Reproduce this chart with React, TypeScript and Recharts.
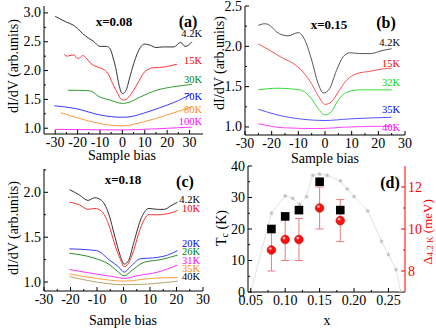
import React from 'react';
import { LineChart, Line, XAxis, YAxis, ComposedChart, Scatter, ErrorBar, Symbols } from 'recharts';

type Pt = [number, number];

// (a) x=0.08 : [sample bias, dI/dV]
const a42K: Pt[] = [[-30, 2.94], [-27, 2.88], [-25, 2.84], [-22, 2.79], [-20, 2.73], [-17.7, 2.64], [-15, 2.56], [-13, 2.51], [-10, 2.42], [-7, 2.42], [-5.5, 2.38], [-4, 2.2], [-3, 2.05], [-1.5, 1.75], [0, 1.6], [1, 1.62], [2, 1.69], [3, 1.84], [4, 1.98], [6.4, 2.27], [8, 2.4], [10, 2.46], [12.4, 2.44], [15, 2.4], [18, 2.41], [23, 2.41], [26, 2.49], [28, 2.42], [29.5, 2.44], [31, 2.5]];
const a15K: Pt[] = [[-26, 2.28], [-24.5, 2.25], [-23.5, 2.26], [-21.5, 2.27], [-20.5, 2.22], [-19.5, 2.21], [-17.7, 2.26], [-16.2, 2.22], [-14, 2.12], [-11, 2.06], [-8, 2.01], [-6, 1.92], [-5, 1.83], [-2.3, 1.62], [0, 1.49], [1, 1.49], [3.4, 1.57], [6.4, 1.75], [10, 1.98], [14, 2.05], [18.4, 2.06], [21, 2.08], [24.4, 2.11]];
const a30K: Pt[] = [[-24.4, 1.66], [-14.7, 1.65], [-10, 1.54], [-5.6, 1.49], [0, 1.43], [3, 1.45], [7.9, 1.54], [15.4, 1.66], [22.9, 1.72], [31, 1.76]];
const a70K: Pt[] = [[-30.4, 1.39], [-20.7, 1.34], [-10, 1.23], [0, 1.19], [5, 1.21], [9.4, 1.26], [19.9, 1.4], [25, 1.48], [31, 1.6]];
const a80K: Pt[] = [[-27.4, 1.27], [-19.2, 1.17], [-10, 1.08], [0, 1.04], [9.4, 1.11], [19.9, 1.23], [31, 1.37]];
const a100K: Pt[] = [[-30, 0.98], [-15, 0.975], [0, 0.97], [15, 0.99], [31, 1.02]];

// (b) x=0.15
const b42K: Pt[] = [[-25, 2.26], [-22.6, 2.28], [-20.7, 2.26], [-18.2, 2.18], [-13.9, 2.13], [-10, 2.17], [-7.6, 2.08], [-5, 1.83], [-2.6, 1.54], [-0.5, 1.42], [1.8, 1.48], [4.3, 1.7], [6.8, 1.87], [9.3, 1.92], [13, 1.91], [17, 1.91], [21.8, 1.95], [25, 1.97]];
const b15K: Pt[] = [[-25, 2.03], [-20.7, 1.95], [-15.7, 1.85], [-12, 1.79], [-8.2, 1.68], [-5.1, 1.54], [-2.6, 1.39], [0, 1.28], [2.4, 1.31], [4.9, 1.43], [8.1, 1.58], [11.8, 1.66], [16.8, 1.69], [21.8, 1.72], [25, 1.73]];
const b32K: Pt[] = [[-25, 1.46], [-18, 1.48], [-9.5, 1.46], [-5.1, 1.35], [-2.6, 1.23], [0, 1.15], [2.4, 1.19], [4.9, 1.33], [8.1, 1.43], [13, 1.46], [19.4, 1.46], [25, 1.46]];
const b35K: Pt[] = [[-25, 1.22], [-18, 1.15], [-9.5, 1.1], [0, 1.08], [9.3, 1.1], [25, 1.12]];
const b40K: Pt[] = [[-25, 1.04], [-15.7, 0.99], [-3, 0.98], [9.3, 1.0], [25, 1.01]];

// (c) x=0.18
const c42K: Pt[] = [[-20.4, 2.03], [-16.6, 1.97], [-13.4, 1.91], [-10.8, 1.94], [-8.3, 1.91], [-5.7, 1.77], [-3.2, 1.5], [-1.3, 1.3], [0.3, 1.2], [1.9, 1.24], [3.8, 1.43], [6.4, 1.69], [9.6, 1.82], [12.8, 1.81], [15.3, 1.81], [17.9, 1.85], [20.4, 1.89]];
const c10K: Pt[] = [[-20.4, 1.89], [-16.6, 1.86], [-13.4, 1.81], [-10.8, 1.82], [-8.3, 1.79], [-5.7, 1.65], [-3.2, 1.41], [-1.3, 1.26], [0.3, 1.17], [1.9, 1.21], [3.8, 1.35], [6.4, 1.6], [9.6, 1.75], [12.8, 1.75], [17.9, 1.77], [20.4, 1.8]];
const c20K: Pt[] = [[-20.4, 1.37], [-10.2, 1.35], [-5.1, 1.24], [-1.9, 1.17], [0.3, 1.11], [2.6, 1.17], [6.4, 1.26], [11.5, 1.27], [16.6, 1.3], [20.4, 1.35]];
const c26K: Pt[] = [[-20.4, 1.32], [-11.5, 1.27], [-5.1, 1.19], [-1.9, 1.11], [0.3, 1.07], [3.2, 1.13], [7.7, 1.22], [14.1, 1.25], [20.4, 1.3]];
const c31K: Pt[] = [[-20.4, 1.14], [-12.8, 1.1], [-3.8, 1.06], [0.3, 1.04], [5.1, 1.07], [12.8, 1.11], [20.4, 1.19]];
const c35K: Pt[] = [[-20.4, 1.09], [-10.2, 1.04], [0.3, 1.01], [10.2, 1.04], [20.4, 1.05]];
const c40K: Pt[] = [[-20.4, 1.06], [-10.2, 1.0], [0, 0.97], [10.2, 0.98], [20.4, 1.01]];

// (d) Tc dome, measured Tc and gap
const domeX = [0.05, 0.08, 0.10, 0.111, 0.121, 0.131, 0.14, 0.15, 0.161, 0.18, 0.19, 0.20, 0.22, 0.24, 0.25, 0.261, 0.268];
const domeTc = [0, 25, 30.5, 29.7, 27.8, 30.3, 37, 37.4, 37, 35.3, 32.7, 30.3, 25.7, 16.1, 11.9, 7.1, 0];
const sampleX = [0.08, 0.10, 0.12, 0.15, 0.18];
const sampleTc = [20, 24, 26, 35, 26];
const gap42K = [9.0, 9.5, 9.5, 11.0, 10.4];
const gapErr = [1.0, 1.0, 1.0, 1.0, 1.0];

// ticks
const biasTicksA = [-30, -25, -20, -15, -10, -5, 0, 5, 10, 15, 20, 25, 30];
const biasTicks = [-30, -25, -20, -15, -10, -5, 0, 5, 10, 15, 20, 25, 30];
const didvTicksA = [1.0, 1.25, 1.5, 1.75, 2.0, 2.25, 2.5, 2.75, 3.0];
const didvTicksB = [1.0, 1.25, 1.5, 1.75, 2.0, 2.25, 2.5];
const didvTicksC = [1.0, 1.25, 1.5, 1.75, 2.0, 2.25];
const xTicksD = [0.05, 0.075, 0.1, 0.125, 0.15, 0.175, 0.2, 0.225, 0.25];
const tcTicks = [0, 5, 10, 15, 20, 25, 30, 35, 40];
const gapTicks = [8, 9, 10, 11, 12];

const SERIF = '"Liberation Serif", "Times New Roman", Times, serif';
const TM = 3;

const rows = (pts: Pt[]) => pts.map(([b, v]) => ({ b, v }));
const isMult = (v: number, step: number) => Math.abs(v / step - Math.round(v / step)) < 1e-6;

function makeTick(side: 'bottom' | 'left' | 'right', step: number, digits: number, color = '#000') {
  return (p: any) => {
    const v = p.payload.value as number;
    const major = isMult(v, step);
    const len = major ? 4 : 2;
    const label = major ? (
      side === 'bottom' ? (
        <text x={p.x} y={p.y + 10} textAnchor="middle" fontSize={14} fontFamily={SERIF} fill={color}>{v.toFixed(digits)}</text>
      ) : side === 'left' ? (
        <text x={p.x} y={p.y + 4.5} textAnchor="end" fontSize={14} fontFamily={SERIF} fill={color}>{v.toFixed(digits)}</text>
      ) : (
        <text x={p.x} y={p.y + 4.5} textAnchor="start" fontSize={14} fontFamily={SERIF} fill={color}>{v.toFixed(digits)}</text>
      )
    ) : null;
    let line;
    if (side === 'bottom') {
      const ay = p.y - TM;
      line = <line x1={p.x} x2={p.x} y1={ay} y2={ay - len} stroke={color} />;
    } else if (side === 'left') {
      const ax = p.x + TM;
      line = <line x1={ax} x2={ax + len} y1={p.y} y2={p.y} stroke={color} />;
    } else {
      const ax = p.x - TM;
      line = <line x1={ax} x2={ax - len} y1={p.y} y2={p.y} stroke={color} />;
    }
    return <g>{line}{label}</g>;
  };
}

type Curve = { pts: Pt[]; color: string };

const curvesA: Curve[] = [
  { pts: a42K, color: '#333333' },
  { pts: a15K, color: '#ff3333' },
  { pts: a30K, color: '#2e9e2e' },
  { pts: a70K, color: '#3b3bff' },
  { pts: a80K, color: '#ff9a40' },
  { pts: a100K, color: '#ff33ff' },
];
const curvesB: Curve[] = [
  { pts: b42K, color: '#555555' },
  { pts: b15K, color: '#ff5050' },
  { pts: b32K, color: '#33dd33' },
  { pts: b35K, color: '#5555ff' },
  { pts: b40K, color: '#ff44ff' },
];
const curvesC: Curve[] = [
  { pts: c42K, color: '#333333' },
  { pts: c10K, color: '#ff3333' },
  { pts: c20K, color: '#3b3bff' },
  { pts: c26K, color: '#2e8b2e' },
  { pts: c31K, color: '#ff33ff' },
  { pts: c35K, color: '#ffa040' },
  { pts: c40K, color: '#b5a56a' },
];

function BiasPanel(props: {
  curves: Curve[]; width: number; height: number; margin: any; yWidth: number; xHeight: number;
  xDomain: [number, number]; yDomain: [number, number]; xTicks: number[]; yTicks: number[];
}) {
  const { curves, width, height, margin, yWidth, xHeight, xDomain, yDomain, xTicks, yTicks } = props;
  return (
    <LineChart width={width} height={height} margin={margin}>
      <XAxis dataKey="b" type="number" domain={xDomain} allowDataOverflow ticks={xTicks} interval={0}
        height={xHeight} tickSize={0} tickMargin={TM} tickLine={false} axisLine={{ stroke: '#000' }}
        tick={makeTick('bottom', 10, 0)} />
      <XAxis xAxisId="top" orientation="top" dataKey="b" type="number" domain={xDomain} allowDataOverflow
        height={0} tick={false} tickLine={false} axisLine={{ stroke: '#000' }} />
      <YAxis type="number" domain={yDomain} allowDataOverflow ticks={yTicks} interval={0} width={yWidth}
        tickSize={0} tickMargin={TM} tickLine={false} axisLine={{ stroke: '#000' }}
        tick={makeTick('left', 0.5, 1)} />
      <YAxis yAxisId="right" orientation="right" type="number" domain={yDomain} allowDataOverflow
        width={0} tick={false} tickLine={false} axisLine={{ stroke: '#000' }} />
      {curves.map((c, i) => (
        <Line key={i} data={rows(c.pts)} dataKey="v" type="monotone" dot={false} stroke={c.color}
          strokeWidth={1} isAnimationActive={false} />
      ))}
    </LineChart>
  );
}

const domeRows = domeX.map((x, i) => ({ x, tc: domeTc[i] }));
const tcRows = sampleX.map((x, i) => ({ x, tc: sampleTc[i] }));
const gapRows = sampleX.map((x, i) => ({ x, gap: gap42K[i], err: gapErr[i] }));

const StarDot = (p: any) => (
  <Symbols key={p.key} cx={p.cx} cy={p.cy} type="star" size={9} fill="#bdbdbd" stroke="none" />
);
const SquareShape = (p: any) => (
  <rect x={p.cx - 4.3} y={p.cy - 4.3} width={8.6} height={8.6} fill="#000" />
);
const BallShape = (p: any) => (
  <g>
    <circle cx={p.cx} cy={p.cy} r={4.3} fill="#ff1010" stroke="#c00000" strokeWidth={0.6} />
    <circle cx={p.cx - 1.2} cy={p.cy - 1.4} r={1.4} fill="#ffb0b0" />
  </g>
);

function PanelD() {
  const xd: [number, number] = [0.046, 0.274];
  return (
    <ComposedChart width={236} height={169} margin={{ top: 6, right: 0, left: 0, bottom: 0 }}>
      <XAxis dataKey="x" type="number" domain={xd} allowDataOverflow ticks={xTicksD} interval={0}
        height={37} tickSize={0} tickMargin={TM} tickLine={false} axisLine={{ stroke: '#000' }}
        tick={makeTick('bottom', 0.05, 2)} />
      <XAxis xAxisId="top" orientation="top" dataKey="x" type="number" domain={xd} allowDataOverflow
        height={0} tick={false} tickLine={false} axisLine={{ stroke: '#000' }} />
      <YAxis type="number" domain={[0, 40]} allowDataOverflow ticks={tcTicks} interval={0} width={48}
        tickSize={0} tickMargin={TM} tickLine={false} axisLine={{ stroke: '#000' }}
        tick={makeTick('left', 10, 0)} />
      <YAxis yAxisId="r" orientation="right" type="number" domain={[7, 13]} allowDataOverflow ticks={gapTicks}
        interval={0} width={31} tickSize={0} tickMargin={TM} tickLine={false} axisLine={{ stroke: '#ff0000' }}
        tick={makeTick('right', 2, 0, '#ff0000')} />
      <Line data={domeRows} dataKey="tc" type="linear" stroke="#e2e2e2" strokeWidth={1} dot={StarDot}
        isAnimationActive={false} />
      <Scatter data={tcRows} dataKey="tc" shape={SquareShape} isAnimationActive={false} />
      <Scatter data={gapRows} dataKey="gap" yAxisId="r" shape={BallShape} isAnimationActive={false}>
        <ErrorBar dataKey="err" direction="y" width={4} stroke="#f07878" strokeWidth={1} isAnimationActive={false} />
      </Scatter>
    </ComposedChart>
  );
}

const T = (p: { x: number; y: number; c?: string; s?: number; b?: boolean; a?: 'start' | 'middle' | 'end'; children: React.ReactNode }) => (
  <text x={p.x} y={p.y} fill={p.c || '#000'} fontSize={p.s || 10.5} fontWeight={p.b ? 'bold' : 'normal'}
    textAnchor={p.a || 'end'} dominantBaseline="central" fontFamily={SERIF}>{p.children}</text>
);

const VT = (p: { x: number; y: number; c?: string; children: React.ReactNode }) => (
  <text transform={`translate(${p.x},${p.y}) rotate(-90)`} fill={p.c || '#000'} fontSize={14}
    textAnchor="middle" dominantBaseline="central" fontFamily={SERIF}>{p.children}</text>
);

export default function App() {
  return (
    <div style={{ position: 'absolute', left: 0, top: 0, width: 436, height: 329, background: '#fff', overflow: 'hidden' }}>
      <div style={{ position: 'absolute', left: 0, top: 0 }}>
        <BiasPanel curves={curvesA} width={222} height={165} margin={{ top: 6, right: 19, left: 0, bottom: 0 }}
          yWidth={44} xHeight={31} xDomain={[-35, 36]} yDomain={[0.9, 3.12]} xTicks={biasTicksA} yTicks={didvTicksA} />
      </div>
      <div style={{ position: 'absolute', left: 200, top: 0 }}>
        <BiasPanel curves={curvesB} width={222} height={165} margin={{ top: 6, right: 17, left: 0, bottom: 0 }}
          yWidth={45} xHeight={30} xDomain={[-30, 30]} yDomain={[0.9, 2.5]} xTicks={biasTicks} yTicks={didvTicksB} />
      </div>
      <div style={{ position: 'absolute', left: 0, top: 160 }}>
        <BiasPanel curves={curvesC} width={222} height={169} margin={{ top: 9, right: 19, left: 0, bottom: 0 }}
          yWidth={44} xHeight={38} xDomain={[-30, 30]} yDomain={[0.9, 2.26]} xTicks={biasTicks} yTicks={didvTicksC} />
      </div>
      <div style={{ position: 'absolute', left: 200, top: 160 }}>
        <PanelD />
      </div>
      <svg width={436} height={329} style={{ position: 'absolute', left: 0, top: 0, pointerEvents: 'none' }}>
        {/* axis titles */}
        <VT x={13} y={66}>dI/dV (arb.units)</VT>
        <T x={122} y={155} s={14} a="middle">Sample bias</T>
        <VT x={219} y={63}>dI/dV (arb.units)</VT>
        <T x={325} y={158} s={14} a="middle">Sample bias</T>
        <VT x={13} y={228}>dI/dV (arb.units)</VT>
        <T x={123} y={320} s={14} a="middle">Sample bias</T>
        <T x={327} y={320} s={14} a="middle">x</T>
        <text transform="translate(221,228) rotate(-90)" fontSize={14} textAnchor="middle" dominantBaseline="central" fontFamily={SERIF}>
          T<tspan dy={3} fontSize={10}>c</tspan><tspan dy={-3}> (K)</tspan>
        </text>
        <text transform="translate(427,232) rotate(-90)" fill="#ff0000" fontSize={13} textAnchor="middle" dominantBaseline="central" fontFamily={SERIF}>
          Δ<tspan dy={3} fontSize={9}>4.2 K</tspan><tspan dy={-3}> (meV)</tspan>
        </text>

        {/* panel (a) */}
        <T x={114} y={21} s={13} b a="middle">x=0.08</T>
        <T x={188} y={21} s={16} b a="middle">(a)</T>
        <T x={202} y={33}>4.2K</T>
        <T x={202} y={60} c="#ff0000">15K</T>
        <T x={202} y={79} c="#008000">30K</T>
        <T x={202} y={96} c="#0000ff">70K</T>
        <T x={202} y={109} c="#ff8c00">80K</T>
        <T x={202} y={121} c="#ff00ff">100K</T>

        {/* panel (b) */}
        <T x={329} y={24} s={13} b a="middle">x=0.15</T>
        <T x={386} y={22} s={16} b a="middle">(b)</T>
        <T x={400} y={42}>4.2K</T>
        <T x={400} y={63} c="#ff0000">15K</T>
        <T x={400} y={82} c="#00dd00">32K</T>
        <T x={400} y={109} c="#0000ff">35K</T>
        <T x={400} y={127} c="#ff00ff">40K</T>

        {/* panel (c) */}
        <T x={123} y={179} s={13} b a="middle">x=0.18</T>
        <T x={185} y={181} s={16} b a="middle">(c)</T>
        <T x={200} y={199.5}>4.2K</T>
        <T x={200} y={208.5} c="#ff0000">10K</T>
        <T x={200} y={243} c="#0000ff">20K</T>
        <T x={200} y={251.5} c="#008000">26K</T>
        <T x={200} y={260} c="#ff00ff">31K</T>
        <T x={200} y={268} c="#ff8c00">35K</T>
        <T x={200} y={276.5}>40K</T>

        {/* panel (d) */}
        <T x={390} y={182} s={16} b a="middle">(d)</T>
      </svg>
    </div>
  );
}
